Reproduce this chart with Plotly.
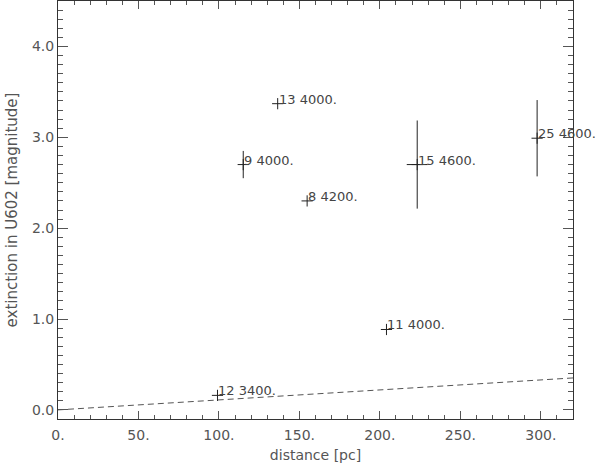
import plotly.graph_objects as go

# ---- data ----
star_ids = ["12", "9", "13", "8", "11", "15", "25"]
temps = ["3400.", "4000.", "4000.", "4200.", "4000.", "4600.", "4600."]
distance = [99.1, 115.1, 136.5, 154.8, 204.1, 223.2, 297.7]
extinction = [0.16, 2.70, 3.37, 2.30, 0.885, 2.70, 2.99]
ext_err = [0.0, 0.15, 0.0, 0.0, 0.0, 0.485, 0.42]
dist_err = [0.0, 0.0, 0.0, 0.0, 0.0, 6.5, 0.0]

line_x = [0, 320]
line_y = [0.0, 0.352]

x_ticks = [0, 50, 100, 150, 200, 250, 300]
x_ticktext = ["0.", "50.", "100.", "150.", "200.", "250.", "300."]
y_ticks = [0, 1, 2, 3, 4]
y_ticktext = ["0.0", "1.0", "2.0", "3.0", "4.0"]

FONT = "DejaVu Sans"
TXT = "#555555"
LN = "#222222"

fig = go.Figure()

fig.add_trace(go.Scatter(
    x=line_x, y=line_y, mode="lines",
    line=dict(color="#555555", width=1, dash="6px,4px"),
    hoverinfo="skip", showlegend=False,
))

fig.add_trace(go.Scatter(
    x=distance, y=extinction, mode="markers",
    marker=dict(symbol="cross-thin", size=8, line=dict(color=LN, width=1), color=LN),
    error_y=dict(type="data", array=ext_err, visible=True, color=LN, thickness=1, width=0),
    error_x=dict(type="data", array=dist_err, visible=True, color=LN, thickness=1, width=0),
    showlegend=False,
))

annotations = []
for sid, t, xv, yv in zip(star_ids, temps, distance, extinction):
    annotations.append(dict(
        x=xv, y=yv, xref="x", yref="y",
        text=f"{sid} {t}", showarrow=False,
        xanchor="left", yanchor="bottom",
        xshift=-1, yshift=-5,
        font=dict(family=FONT, size=13, color="#444444"),
    ))

axis_common = dict(
    showline=True, linecolor="#333333", linewidth=1, mirror="ticks",
    ticks="inside", tickcolor="#555555", tickwidth=1,
    showgrid=False, zeroline=False, automargin=False,
    tickfont=dict(family=FONT, size=14, color=TXT),
)

fig.update_layout(
    width=598, height=464,
    margin=dict(l=58, r=25, t=1, b=45, autoexpand=False),
    paper_bgcolor="white", plot_bgcolor="white",
    annotations=annotations,
    xaxis=dict(
        range=[0, 320], tickmode="array", tickvals=x_ticks, ticktext=x_ticktext,
        ticklen=8, ticklabelstandoff=3,
        minor=dict(tickmode="linear", tick0=0, dtick=10, ticklen=4, ticks="inside",
                   tickcolor="#555555", tickwidth=1, showgrid=False),
        title=dict(text="distance [pc]", font=dict(family=FONT, size=14, color=TXT), standoff=8),
        **axis_common,
    ),
    yaxis=dict(
        range=[-0.1, 4.5], tickmode="array", tickvals=y_ticks, ticktext=y_ticktext,
        ticklen=10,
        minor=dict(tickmode="linear", tick0=0, dtick=0.1, ticklen=5, ticks="inside",
                   tickcolor="#555555", tickwidth=1, showgrid=False),
        title=dict(text="extinction in U602 [magnitude]", font=dict(family=FONT, size=15, color=TXT), standoff=10),
        **axis_common,
    ),
)

fig.write_html(
    "out.html",
    config={"displayModeBar": False},
    post_script="document.body.style.margin='0';document.body.style.overflow='hidden';",
)
